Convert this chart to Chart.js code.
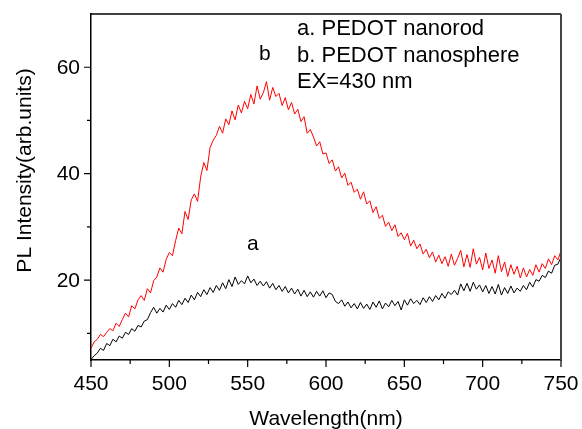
<!DOCTYPE html>
<html>
<head>
<meta charset="utf-8">
<script src="https://cdn.jsdelivr.net/npm/chart.js@4/dist/chart.umd.min.js"></script>
<style>
  html, body { margin: 0; padding: 0; background: #ffffff; }
  #wrap { width: 582px; height: 429px; }
</style>
</head>
<body>
<div id="wrap"><canvas id="c" width="582" height="429"></canvas></div>
<script>
// ---- data ----
const wavelengths = [
  450,452,454,456,458,460,462,464,466,468,470,472,474,476,478,480,482,484,486,488,
  490,492,494,496,498,500,502,504,506,508,510,512,514,516,518,520,522,524,526,528,
  530,532,534,536,538,540,542,544,546,548,550,552,554,556,558,560,562,564,566,568,
  570,572,574,576,578,580,582,584,586,588,590,592,594,596,598,600,602,604,606,608,
  610,612,614,616,618,620,622,624,626,628,630,632,634,636,638,640,642,644,646,648,
  650,652,654,656,658,660,662,664,666,668,670,672,674,676,678,680,682,684,686,688,
  690,692,694,696,698,700,702,704,706,708,710,712,714,716,718,720,722,724,726,728,
  730,732,734,736,738,740,742,744,746,748,750
];
// b. PEDOT nanosphere (red)
const nanosphere = [
  7.2,8.4,8.9,9.8,9.4,10.2,10.9,10.5,11.9,11.3,12.6,13.8,13.1,15.2,14.6,16.3,17.1,16.2,18.4,17.6,
  19.9,20.6,22.3,21.5,23.9,25.2,24.6,27.4,29.8,28.7,32.9,31.4,35.1,36.2,34.8,39.4,42.1,40.6,44.9,46.3,
  47.2,48.9,47.6,50.3,49.2,51.8,50.1,52.9,51.4,53.6,52.2,54.9,53.1,56.5,54.0,55.2,57.3,53.8,56.2,54.5,
  55.1,52.8,54.3,52.0,53.4,51.2,52.1,49.8,50.7,47.6,48.3,46.9,45.2,46.0,43.7,43.9,41.9,42.6,40.5,41.3,
  39.2,40.1,37.8,38.4,36.5,37.1,35.2,36.6,34.3,34.9,32.7,33.8,31.6,32.2,30.1,30.9,29.3,30.4,28.2,28.9,
  27.6,28.8,26.4,27.5,25.9,26.8,24.9,25.8,24.2,25.3,23.4,24.7,23.1,24.4,22.6,24.9,22.8,24.1,25.6,22.5,
  24.8,22.4,25.9,23.0,24.3,21.9,25.1,22.2,23.8,21.3,24.6,21.6,23.4,20.7,22.9,21.1,22.6,20.4,22.3,20.6,
  22.0,20.9,22.9,21.5,23.1,22.2,24.0,22.9,24.6,23.8,25.5
];
// a. PEDOT nanorod (black)
const nanorod = [
  5.1,5.8,6.3,7.2,6.8,8.1,7.7,8.9,8.4,9.5,9.1,10.2,9.8,10.9,10.4,11.5,11.2,12.3,12.6,13.9,
  14.9,13.8,14.7,14.0,15.3,14.5,15.6,14.9,16.2,15.4,16.6,15.8,17.2,16.3,17.7,16.9,18.2,17.3,18.6,17.7,
  19.0,18.1,19.5,18.4,20.1,18.8,20.6,19.2,19.9,19.3,20.8,19.5,20.2,19.0,19.8,18.9,19.7,18.5,19.4,18.2,
  19.0,17.9,18.8,17.6,18.5,17.4,18.3,17.0,18.1,16.9,17.8,16.8,17.9,17.0,18.0,16.7,17.6,17.3,16.0,15.6,
  16.3,15.1,15.9,14.8,15.6,14.6,15.8,14.7,15.5,14.5,15.9,14.9,16.1,14.6,15.7,15.0,16.2,15.2,16.0,14.4,
  16.3,15.3,16.5,15.6,16.2,15.4,16.7,15.8,16.9,16.0,17.1,16.3,17.5,16.6,17.8,17.3,18.1,17.2,19.3,18.0,
  19.4,17.9,19.6,18.3,19.1,17.8,19.0,17.5,18.8,17.4,19.2,17.2,18.6,17.5,18.9,17.6,18.5,17.9,19.0,18.2,
  19.6,18.7,20.1,19.8,20.9,20.5,21.7,21.3,22.8,23.0,24.3
];
const xMajorTicks = [450, 500, 550, 600, 650, 700, 750];
const xMinorTicks = [475, 525, 575, 625, 675, 725];
const yMajorTicks = [20, 40, 60];
const yMinorTicks = [10, 30, 50];
const xTitle = 'Wavelength(nm)';
const yTitle = 'PL Intensity(arb.units)';
const legendLines = ['a. PEDOT nanorod', 'b. PEDOT nanosphere', 'EX=430 nm'];
const curveLabels = [{ text: 'a', x: 553.3, y: 25.7 }, { text: 'b', x: 560.9, y: 61.3 }];

const FONT = '"Liberation Sans", Arial, Helvetica, sans-serif';

function pts(ys) { return wavelengths.map((w, i) => ({ x: w, y: ys[i] })); }

const decor = {
  id: 'decor',
  afterDraw(chart) {
    const ctx = chart.ctx, a = chart.chartArea;
    const xs = chart.scales.x, ys = chart.scales.y;
    ctx.save();
    // frame: top and right
    ctx.strokeStyle = '#000';
    ctx.lineWidth = 1.5;
    ctx.beginPath();
    ctx.moveTo(a.left, a.top); ctx.lineTo(a.right, a.top);
    ctx.stroke();
    ctx.strokeStyle = '#444';
    ctx.lineWidth = 2;
    ctx.beginPath();
    ctx.moveTo(a.right, a.top); ctx.lineTo(a.right, a.bottom);
    ctx.stroke();
    // ticks
    ctx.strokeStyle = '#000';
    ctx.lineWidth = 1.2;
    ctx.beginPath();
    xMajorTicks.forEach(v => { const p = xs.getPixelForValue(v); ctx.moveTo(p, a.bottom); ctx.lineTo(p, a.bottom + 7); });
    xMinorTicks.forEach(v => { const p = xs.getPixelForValue(v); ctx.moveTo(p, a.bottom); ctx.lineTo(p, a.bottom + 4); });
    yMajorTicks.forEach(v => { const p = ys.getPixelForValue(v); ctx.moveTo(a.left, p); ctx.lineTo(a.left - 7, p); });
    yMinorTicks.forEach(v => { const p = ys.getPixelForValue(v); ctx.moveTo(a.left, p); ctx.lineTo(a.left - 4, p); });
    ctx.stroke();
    // tick labels
    ctx.fillStyle = '#000';
    ctx.font = '21px ' + FONT;
    ctx.textAlign = 'center';
    ctx.textBaseline = 'alphabetic';
    xMajorTicks.forEach(v => ctx.fillText(String(v), xs.getPixelForValue(v), a.bottom + 30));
    ctx.textAlign = 'right';
    ctx.textBaseline = 'middle';
    yMajorTicks.forEach(v => ctx.fillText(String(v), a.left - 11, ys.getPixelForValue(v) + 1));
    // axis titles
    ctx.textAlign = 'center';
    ctx.textBaseline = 'alphabetic';
    ctx.fillText(xTitle, (a.left + a.right) / 2, 425);
    ctx.save();
    ctx.translate(31, 170.5);
    ctx.rotate(-Math.PI / 2);
    ctx.fillText(yTitle, 0, 0);
    ctx.restore();
    // legend text
    ctx.textAlign = 'left';
    ctx.font = '22px ' + FONT;
    legendLines.forEach((t, i) => ctx.fillText(t, 297, 35 + i * 26.5));
    // curve labels
    ctx.font = '21px ' + FONT;
    ctx.textAlign = 'center';
    curveLabels.forEach(l => ctx.fillText(l.text, xs.getPixelForValue(l.x), ys.getPixelForValue(l.y)));
    ctx.restore();
  }
};

new Chart(document.getElementById('c'), {
  type: 'line',
  data: {
    datasets: [
      { label: 'b. PEDOT nanosphere', data: pts(nanosphere), borderColor: '#ff0000', borderWidth: 1, pointRadius: 0, tension: 0 },
      { label: 'a. PEDOT nanorod', data: pts(nanorod), borderColor: '#000000', borderWidth: 1, pointRadius: 0, tension: 0 }
    ]
  },
  options: {
    responsive: false,
    devicePixelRatio: 1,
    animation: false,
    layout: { padding: { left: 0, top: 14, right: 21, bottom: 0 } },
    plugins: { legend: { display: false }, tooltip: { enabled: false } },
    scales: {
      x: {
        type: 'linear', min: 450, max: 750,
        afterBuildTicks: s => { s.ticks = xMajorTicks.map(v => ({ value: v })); },
        afterFit: s => { s.height = 69; s.paddingLeft = 0; s.paddingRight = 0; },
        grid: { display: false },
        border: { display: true, color: '#000', width: 1.5 },
        ticks: { display: false }
      },
      y: {
        type: 'linear', min: 5, max: 70,
        afterBuildTicks: s => { s.ticks = yMajorTicks.map(v => ({ value: v })); },
        afterFit: s => { s.width = 91; s.paddingTop = 0; s.paddingBottom = 0; },
        grid: { display: false },
        border: { display: true, color: '#000', width: 1.5 },
        ticks: { display: false }
      }
    }
  },
  plugins: [decor]
});
</script>
</body>
</html>
